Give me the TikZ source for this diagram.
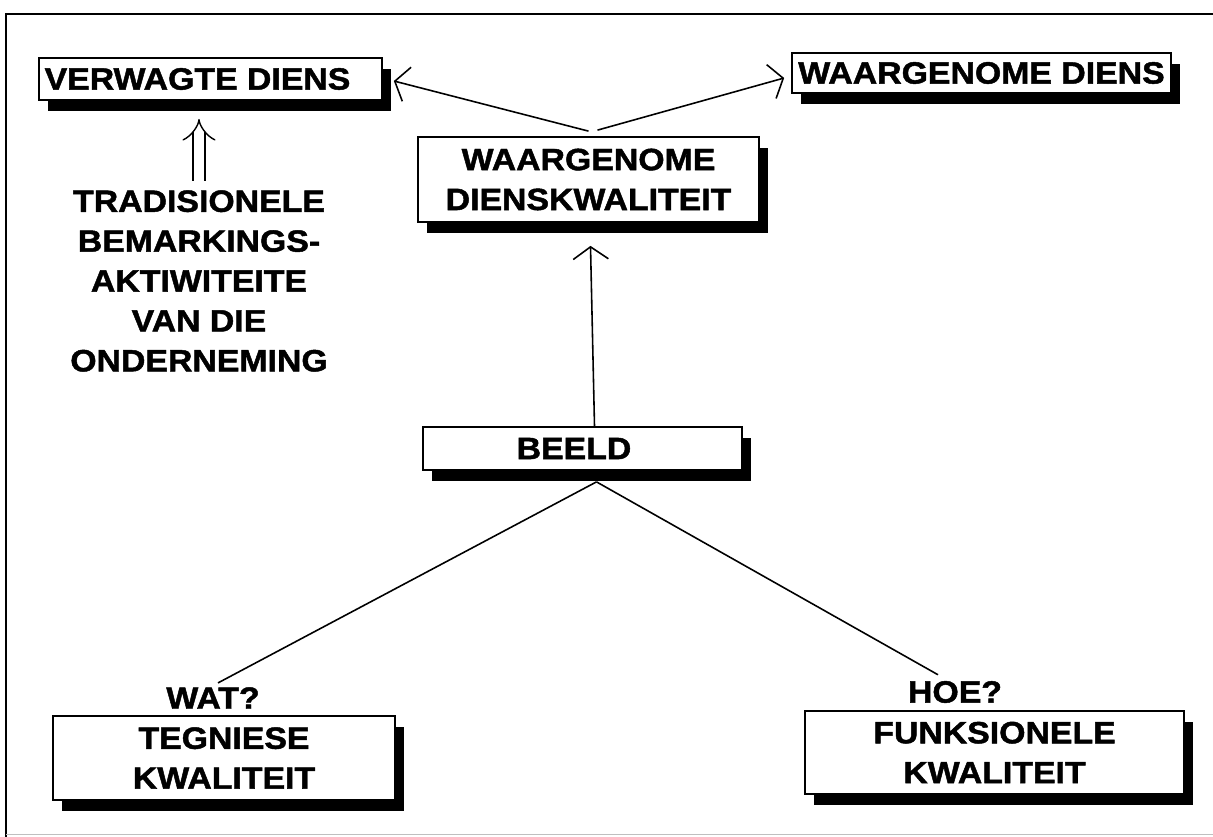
\documentclass[tikz,border=0pt]{standalone}
\usepackage{fontspec}
\setmainfont{Liberation Sans}[FakeStretch=1.1, BoldFeatures={FakeBold=1.5}]
\usetikzlibrary{arrows.meta,shadows}

\begin{document}
\begin{tikzpicture}[x=0.02cm, y=-0.02cm,
    every node/.style={font=\bfseries\fontsize{17.5}{22.7}\selectfont, inner sep=0pt},
    box/.style={draw, line width=1pt, fill=white, align=center,
      drop shadow={shadow xshift=5pt, shadow yshift=-6.5pt, fill=black, opacity=1}},
    arr/.style={line width=0.9pt, -{Straight Barb[length=7pt, width=20pt]}},
    link/.style={line width=0.9pt},
    dbl/.style={double, line width=0.8pt, double distance=6pt, -{Implies}}]
                \useasboundingbox (0,0) rectangle (1213,837);
                \draw[line width=1.2pt] (1213,14) -- (6,14) -- (6,837);
                \draw[black!25] (6,834) -- (1213,834);

                \node[box, minimum width=6.86cm, minimum height=0.84cm] (verw) at (210.5,79) {VERWAGTE DIENS\hspace*{0.52cm}};
                \node[box, minimum width=7.58cm, minimum height=0.80cm] (waarg) at (981.5,73) {WAARGENOME DIENS};
                \node[box, minimum width=6.82cm, minimum height=1.70cm] (mid) at (588.5,179.5) {WAARGENOME\\DIENSKWALITEIT};
                \node[box, minimum width=6.38cm, minimum height=0.86cm] (beeld) at (582.5,448.5) {BEELD\hspace*{0.34cm}};
                \node[box, minimum width=6.84cm, minimum height=1.68cm] (tegn) at (224,758) {TEGNIESE\\KWALITEIT};
                \node[box, minimum width=7.58cm, minimum height=1.66cm] (funk) at (994.5,752.5) {FUNKSIONELE\\KWALITEIT};
                \node[align=center] (trad) at (199,281) {TRADISIONELE\\BEMARKINGS-\\AKTIWITEITE\\VAN DIE\\ONDERNEMING};
                \node (wat) at (213,698) {WAT?};
                \node (hoe) at (955,692) {HOE?};
                \coordinate (apex) at ([shift={(14,11)}]beeld.south);

                \draw[arr] ([shift={(0,-5)}]mid.north) -- ([shift={(11,2)}]verw.east);
                \draw[arr] ([shift={(9,-6)}]mid.north) -- ([shift={(-7,5)}]waarg.west);
                \draw[arr] ([shift={(12,0)}]beeld.north) -- ([shift={(2,23)}]mid.south);
                \draw[dbl] ([shift={(0,-9)}]trad.north) -- ([shift={(0,18)}]trad.north |- verw.south);
                \draw[link] (apex) -- ([shift={(5,-4)}]wat.north);
                \draw[link] (apex) -- ([shift={(-17,-6)}]hoe.north);
\end{tikzpicture}
\end{document}
